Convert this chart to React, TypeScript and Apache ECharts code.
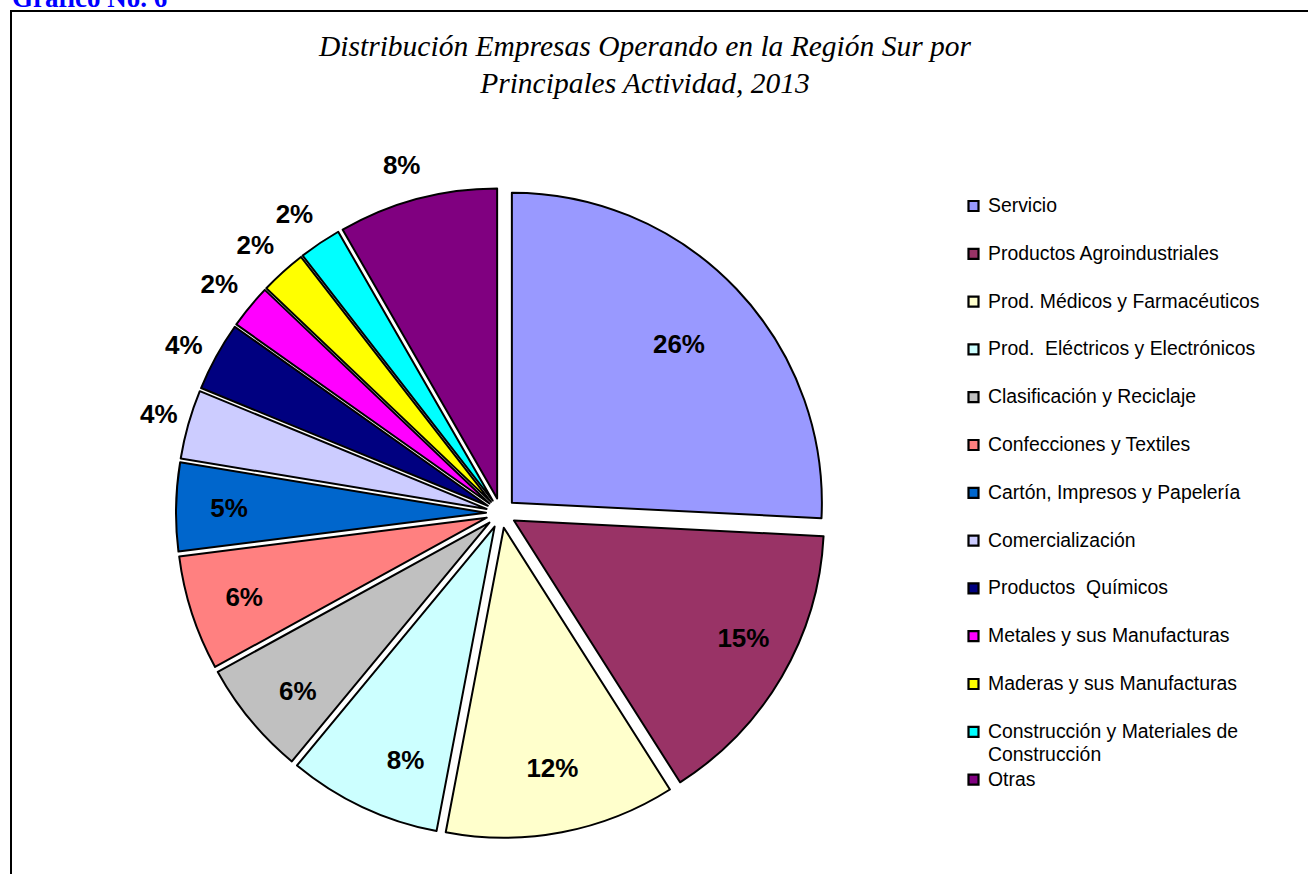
import React, { useEffect, useRef } from "react";
import * as echarts from "echarts";

const categories: string[] = [
  "Servicio",
  "Productos Agroindustriales",
  "Prod. Médicos y Farmacéuticos",
  "Prod.  Eléctricos y Electrónicos",
  "Clasificación y Reciclaje",
  "Confecciones y Textiles",
  "Cartón, Impresos y Papelería",
  "Comercialización",
  "Productos  Químicos",
  "Metales y sus Manufacturas",
  "Maderas y sus Manufacturas",
  "Construcción y Materiales de Construcción",
  "Otras",
];

const legendLabels: string[] = [
  "Servicio",
  "Productos Agroindustriales",
  "Prod. Médicos y Farmacéuticos",
  "Prod.  Eléctricos y Electrónicos",
  "Clasificación y Reciclaje",
  "Confecciones y Textiles",
  "Cartón, Impresos y Papelería",
  "Comercialización",
  "Productos  Químicos",
  "Metales y sus Manufacturas",
  "Maderas y sus Manufacturas",
  "Construcción y Materiales de\nConstrucción",
  "Otras",
];

const shares: number[] = [25.8, 15.2, 12.0, 8.0, 6.0, 6.0, 4.6, 3.6, 3.6, 2.3, 2.4, 2.2, 8.3];

const colors: string[] = [
  "#9999FF",
  "#993366",
  "#FFFFCC",
  "#CCFFFF",
  "#C0C0C0",
  "#FF8080",
  "#0066CC",
  "#CCCCFF",
  "#000080",
  "#FF00FF",
  "#FFFF00",
  "#00FFFF",
  "#800080",
];

// which labels sit outside the pie
const outsideLabel: boolean[] = [false, false, false, false, false, false, false, true, true, true, true, true, true];

// small styling nudges of the percentage labels [dx, dy] in pixels
const labelNudge: number[][] = [
  [-17, 16], [10, -10], [1, -9], [19, 4], [4, 7], [-1, 1], [-3, 0],
  [6, 0], [0, 6], [-2, 1], [-3, 1], [-5, 2], [-6, 2],
];

const titleLines: string[] = [
  "Distribución Empresas Operando en la Región Sur por",
  "Principales Actividad, 2013",
];
const chartNumber = "Gráfico No. 6";

export default function App() {
  const ref = useRef<HTMLDivElement>(null);

  useEffect(() => {
    if (!ref.current) return;
    const chart = echarts.init(ref.current, undefined, { renderer: "svg" });
    const total = shares.reduce((a, b) => a + b, 0);
    const fmt = (p: any) => Math.round((p.value / total) * 100) + "%";
    const cx = 501;
    const cy = 513;
    const R = 310;
    const labelFont = {
      fontFamily: "Liberation Sans, Arial, sans-serif",
      fontWeight: "bold" as const,
      fontSize: 26,
      color: "#000",
    };
    const nudge = (p: any) => {
      const n = labelNudge[p.dataIndex] || [0, 0];
      return { dx: n[0], dy: n[1] };
    };

    const mainData = categories.map((name, i) => ({
      name,
      value: shares[i],
      selected: true,
      itemStyle: { color: colors[i] },
    }));

    const ringData = (outside: boolean) =>
      categories.map((name, i) => ({
        name,
        value: shares[i],
        selected: true,
        itemStyle: { color: "rgba(0,0,0,0)" },
        label: { show: outsideLabel[i] === outside },
      }));

    const legendTop = 205;
    const legendPitch = 47.8;
    const legendGraphics: any[] = [];
    legendLabels.forEach((lab, i) => {
      const yc = legendTop + i * legendPitch;
      legendGraphics.push({
        type: "rect",
        shape: { x: 968.5, y: yc - 4, width: 10, height: 10 },
        style: { fill: colors[i], stroke: "#000", lineWidth: 2.2 },
        silent: true,
      });
      legendGraphics.push({
        type: "text",
        x: 988,
        y: yc - 11.5,
        style: {
          text: lab,
          fontFamily: "Liberation Sans, Arial, sans-serif",
          fontSize: 19.4,
          lineHeight: 23,
          fill: "#000",
          align: "left",
          verticalAlign: "top",
        },
        silent: true,
      });
    });

    const option: any = {
      animation: false,
      backgroundColor: "#fff",
      graphic: [
        {
          type: "rect",
          shape: { x: 11, y: 11, width: 1400, height: 1000 },
          style: { fill: "none", stroke: "#000", lineWidth: 2 },
          silent: true,
        },
        {
          type: "text",
          x: 12,
          y: -2,
          style: {
            text: chartNumber,
            fontFamily: "Liberation Serif, Times New Roman, serif",
            fontWeight: "bold",
            fontSize: 27,
            fill: "#0000FF",
            align: "left",
            verticalAlign: "middle",
          },
          silent: true,
        },
        ...titleLines.map((t, i) => ({
          type: "text",
          x: 645,
          y: 46 + i * 37,
          style: {
            text: t,
            fontFamily: "Liberation Serif, Times New Roman, serif",
            fontStyle: "italic",
            fontSize: 29.5,
            fill: "#000",
            align: "center",
            verticalAlign: "middle",
          },
          silent: true,
        })),
        ...legendGraphics,
      ],
      series: [
        {
          type: "pie",
          name: "main",
          center: [cx, cy],
          radius: [0, R],
          startAngle: 90,
          clockwise: true,
          selectedMode: "multiple",
          selectedOffset: 15,
          avoidLabelOverlap: false,
          label: { show: false },
          labelLine: { show: false },
          itemStyle: { borderColor: "#000", borderWidth: 2 },
          emphasis: { disabled: true },
          silent: true,
          data: mainData,
        },
        {
          type: "pie",
          name: "inner-labels",
          center: [cx, cy],
          radius: [192, R],
          startAngle: 90,
          clockwise: true,
          selectedMode: "multiple",
          selectedOffset: 15,
          avoidLabelOverlap: false,
          label: { position: "inside", formatter: fmt, ...labelFont },
          labelLine: { show: false },
          labelLayout: nudge,
          itemStyle: { borderWidth: 0 },
          emphasis: { disabled: true },
          silent: true,
          data: ringData(false),
        },
        {
          type: "pie",
          name: "outer-labels",
          center: [cx, cy],
          radius: [322, 366],
          startAngle: 90,
          clockwise: true,
          selectedMode: "multiple",
          selectedOffset: 15,
          avoidLabelOverlap: false,
          label: { position: "inside", formatter: fmt, ...labelFont },
          labelLine: { show: false },
          labelLayout: nudge,
          itemStyle: { borderWidth: 0 },
          emphasis: { disabled: true },
          silent: true,
          data: ringData(true),
        },
      ],
    };
    chart.setOption(option);
    return () => chart.dispose();
  }, []);

  return (
    <div
      ref={ref}
      style={{ position: "fixed", left: 0, top: 0, width: 1308, height: 874, background: "#fff" }}
    />
  );
}
